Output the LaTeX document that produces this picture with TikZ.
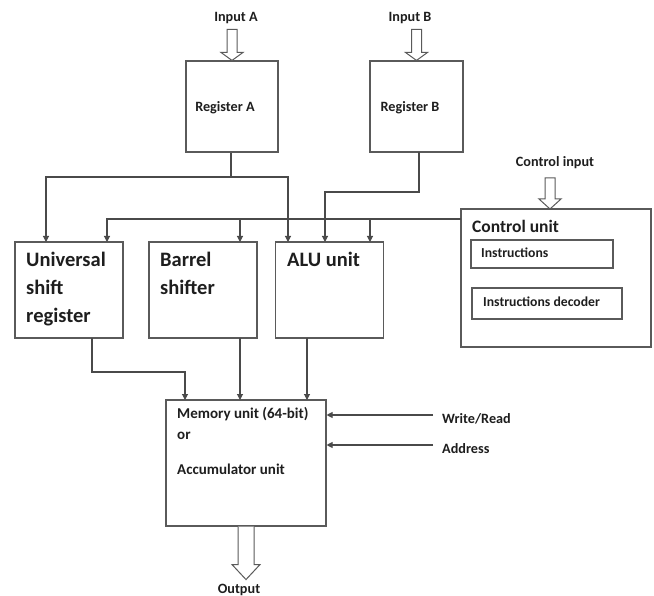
\documentclass[tikz,border=0pt]{standalone}
\usepackage{fontspec}
\setmainfont{Carlito}
\usetikzlibrary{arrows.meta}
\definecolor{boxc}{HTML}{5A5A5A}
\definecolor{wirec}{HTML}{4A4A4A}
\definecolor{txt}{HTML}{1E1E1E}
\begin{document}
\begin{tikzpicture}[x=1pt,y=-1pt,
  box/.style={draw=boxc, line width=1.1pt, inner sep=0pt},
  wire/.style={draw=wirec, line width=1.1pt},
  arr/.style={wire, -{Triangle[length=6pt,width=6pt]}},
  hollow/.style={draw=boxc, line width=1pt, fill=white, line join=miter},
  lbl/.style={inner sep=0pt, font=\bfseries\fontsize{14.2}{17}\selectfont, text=txt},
  meml/.style={inner sep=0pt, anchor=west, font=\bfseries\fontsize{15}{18}\selectfont, text=txt},
  insf/.style={inner sep=0pt, anchor=west, font=\bfseries\fontsize{13.7}{16}\selectfont, text=txt},
  mid/.style={inner sep=0pt, font=\bfseries\fontsize{17.5}{20}\selectfont, text=txt},
  big/.style={inner sep=0pt, align=left, font=\bfseries\fontsize{20.5}{28}\selectfont, text=txt, anchor=north west},
]
\fill[white] (0,0) rectangle (654,596);
\useasboundingbox (0,0) rectangle (654,596);

% registers
\node[box, minimum width=92pt, minimum height=91pt] (ra) at (232,106.5) {};
\node[box, minimum width=93pt, minimum height=91pt] (rb) at (416.5,106.5) {};
\node[lbl] (ral) at (225,108) {Register A};
\node[lbl] (rbl) at (410,108) {Register B};
\node[lbl] (ina) at (236,18) {Input A};
\node[lbl] (inb) at (410,18) {Input B};

% hollow input arrows
\draw[hollow] (ra.north) -- ++(11,-8) -- ++(-6,0) -- ++(0,-23) -- ++(-10,0) -- ++(0,23) -- ++(-6,0) -- cycle;
\draw[hollow] (rb.north) -- ++(11,-8) -- ++(-6,0) -- ++(0,-23) -- ++(-10,0) -- ++(0,23) -- ++(-6,0) -- cycle;

% processing blocks
\node[box, minimum width=108pt, minimum height=96pt] (usr) at (69,290) {};
\node[box, minimum width=108pt, minimum height=96pt] (brl) at (203,290) {};
\node[box, minimum width=108pt, minimum height=96pt] (alu) at (329.5,290) {};
\node[big] (usrl) at (26,252) {Universal\\shift\\register};
\node[big] (brll) at (160,252) {Barrel\\shifter};
\node[big] (alul) at (287,252) {ALU unit};

% control unit
\node[box, minimum width=190pt, minimum height=138pt] (cu) at (556,278) {};
\node[mid, anchor=west] (cul) at (472,226) {Control unit};
\node[box, minimum width=142pt, minimum height=28pt] (ins) at (542,254) {};
\node[box, minimum width=150pt, minimum height=31pt] (dec) at (547,303.5) {};
\node[insf] (insl) at (481,253) {Instructions};
\node[insf] (decl) at (483,302) {Instructions decoder};
\node[lbl] (cil) at (555,163) {Control input};
\coordinate (cin) at (550,209);
\draw[hollow] (cin) -- ++(11,-10) -- ++(-6,0) -- ++(0,-21) -- ++(-10,0) -- ++(0,21) -- ++(-6,0) -- cycle;

% memory
\node[box, minimum width=160pt, minimum height=126pt] (mem) at (246,463) {};
\node[meml] (m1) at (177,414) {Memory unit (64-bit)};
\node[meml] (m2) at (177,436) {or};
\node[meml] (m3) at (177,469) {Accumulator unit};
\node[lbl, anchor=west] (wr) at (442,419) {Write/Read};
\node[lbl, anchor=west] (ad) at (442,449) {Address};
\node[lbl] (out) at (239,590) {Output};

% connection points
\coordinate (ja) at (231,177);
\coordinate (usrA) at (46,242);
\coordinate (aluA) at (288,242);
\coordinate (rbo) at (419,152);
\coordinate (aluB) at (325,242);
\coordinate (cbus) at (461,219);
\coordinate (usrC) at (107,242);
\coordinate (brlC) at (240,242);
\coordinate (aluC) at (370,242);
\coordinate (usrO) at (92,338);
\coordinate (memU) at (185,400);
\coordinate (brlO) at (240,338);
\coordinate (memB) at (240,400);
\coordinate (aluO) at (307,338);
\coordinate (memA) at (307,400);
\coordinate (wrs) at (433,415);
\coordinate (ads) at (433,445);

% register A fan-out
\draw[wire] (ra.south -| ja) -- (ja);
\draw[arr] (ja) -| (usrA);
\draw[arr] (ja) -| (aluA);
% register B
\draw[arr] (rbo) -- ++(0,40) -| (aluB);
% control bus
\draw[arr] (cbus) -| (usrC);
\draw[arr] (cbus -| brlC) -- (brlC);
\draw[arr] (cbus -| aluC) -- (aluC);
% to memory
\draw[arr] (usrO) -- ++(0,34) -| (memU);
\draw[arr] (brlO) -- (memB);
\draw[arr] (aluO) -- (memA);
\draw[arr] (wrs) -- (wrs -| mem.east);
\draw[arr] (ads) -- (ads -| mem.east);

% output hollow arrow
\draw[hollow] ([xshift=-8pt]mem.south) -- ++(0,38) -- ++(-6,0) -- ++(14,15) -- ++(14,-15) -- ++(-6,0) -- ++(0,-38);
\end{tikzpicture}
\end{document}
